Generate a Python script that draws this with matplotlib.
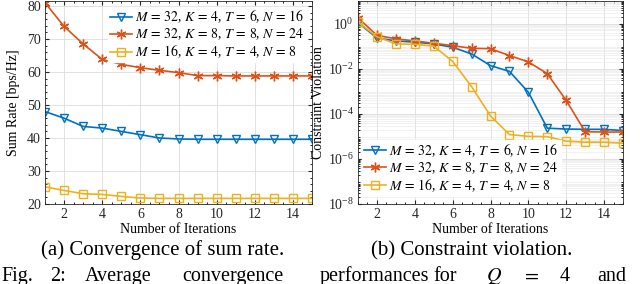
import matplotlib
matplotlib.use("Agg")
import matplotlib.pyplot as plt
from matplotlib.ticker import AutoMinorLocator, LogLocator, NullFormatter

plt.rcParams['font.family'] = ['Liberation Serif', 'DejaVu Serif']
plt.rcParams['mathtext.fontset'] = 'stix'

iters = list(range(1, 16))

labels = [r'$M\,=\,32$, $K\,=\,4$, $T\,=\,6$, $N\,=\,16$',
          r'$M\,=\,32$, $K\,=\,8$, $T\,=\,8$, $N\,=\,24$',
          r'$M\,=\,16$, $K\,=\,4$, $T\,=\,4$, $N\,=\,8$']

# sum rate [bps/Hz]
rate_a = [48.0, 46.0, 43.5, 43.0, 42.0, 41.0, 40.0, 39.7, 39.6, 39.6, 39.6, 39.6, 39.6, 39.6, 39.6]
rate_b = [81.0, 73.8, 68.5, 63.8, 62.3, 61.3, 60.5, 59.8, 58.9, 58.9, 58.8, 58.8, 58.8, 58.8, 58.8]
rate_c = [25.2, 24.1, 23.1, 22.9, 22.3, 21.8, 21.7, 21.7, 21.7, 21.7, 21.7, 21.7, 21.7, 21.7, 21.7]

# constraint violation
viol_a = [1.1, 0.23, 0.17, 0.15, 0.125, 0.089, 0.045, 0.0136, 0.0076, 9e-4,
          2.3e-5, 2.1e-5, 2.05e-5, 2.05e-5, 1.8e-5]
viol_b = [1.8, 0.30, 0.21, 0.17, 0.134, 0.105, 0.080, 0.077, 0.038, 0.020,
          0.006, 3.9e-4, 1.6e-5, 1.55e-5, 1.55e-5]
viol_c = [1.15, 0.26, 0.125, 0.12, 0.10, 0.021, 1.6e-3, 8e-5, 1.2e-5, 1.0e-5,
          9.7e-6, 6.1e-6, 5.5e-6, 5.5e-6, 5.0e-6]

colors = ['#0072BD', '#D95319', '#EDB120']
markers = ['v', (6, 2, 0), 's']
msizes = [6, 7, 6]

fig = plt.figure(figsize=(6.4, 2.84), dpi=100)
W, H = 640, 284

def px_axes(x0, x1, y0, y1):
    return fig.add_axes([x0 / W, 1 - y1 / H, (x1 - x0) / W, (y1 - y0) / H])

ax1 = px_axes(45, 312, 1, 204)
ax2 = px_axes(358, 623, 1, 204)

for ax, series in ((ax1, [rate_a, rate_b, rate_c]), (ax2, [viol_a, viol_b, viol_c])):
    for s, c, m, ms, lab in zip(series, colors, markers, msizes, labels):
        ax.plot(iters, s, color=c, marker=m, markersize=ms, markerfacecolor='none',
                markeredgewidth=1.0, linewidth=1.2, label=lab)
    ax.set_xlim(1, 15)
    ax.set_xticks([2, 4, 6, 8, 10, 12, 14])
    ax.tick_params(direction='in', top=True, right=True, labelsize=10, length=3,
                   pad=3, colors='#262626', labelcolor='#262626')
    ax.tick_params(which='minor', direction='in', top=True, right=True, length=1.5)
    ax.xaxis.set_minor_locator(AutoMinorLocator(4))
    for sp in ax.spines.values():
        sp.set_color('#262626')
        sp.set_linewidth(0.6)
    ax.set_xlabel('Number of Iterations', fontsize=10, labelpad=1)

ax1.set_ylim(20, 81.5)
ax1.set_yticks([20, 30, 40, 50, 60, 70, 80])
ax1.yaxis.set_minor_locator(AutoMinorLocator(5))
ax1.grid(True, which='major', color='#dcdcdc', linewidth=0.6)
ax1.set_axisbelow(True)
ax1.set_ylabel('Sum Rate [bps/Hz]', fontsize=10, labelpad=5)
ax1.legend(loc='upper right', fontsize=10, frameon=True, edgecolor='white',
           framealpha=1, fancybox=False, borderpad=0.15, labelspacing=0.1,
           handlelength=1.6, handletextpad=0.2, borderaxespad=0.4)

ax2.set_yscale('log')
ax2.set_ylim(1e-8, 10)
ax2.set_yticks([1e-8, 1e-6, 1e-4, 1e-2, 1e0])
ax2.yaxis.set_minor_locator(LogLocator(base=10, subs=range(2, 10), numticks=20))
ax2.yaxis.set_minor_formatter(NullFormatter())
ax2.grid(True, which='major', color='#dcdcdc', linewidth=0.6)
ax2.grid(True, which='minor', axis='y', color='#ececec', linewidth=0.5)
ax2.set_axisbelow(True)
ax2.set_ylabel('Constraint Violation', fontsize=10, labelpad=2)
ax2.legend(loc='lower left', fontsize=10, frameon=True, edgecolor='white',
           framealpha=1, fancybox=False, borderpad=0.15, labelspacing=0.1,
           handlelength=1.6, handletextpad=0.2, borderaxespad=0.3,
           bbox_to_anchor=(0.0, 0.02))

# sub-captions
fig.text(163 / W, 1 - 255 / H, '(a) Convergence of sum rate.', fontsize=15,
         ha='center', va='baseline')
fig.text(472 / W, 1 - 255 / H, '(b) Constraint violation.', fontsize=15,
         ha='center', va='baseline')

# justified figure caption line
caption_words = ['Fig.', '2:', 'Average', 'convergence', 'performances', 'for',
                 r'$Q$', r'$=$', '4', 'and']
caption_x = [1, 50, 85, 182, 320, 433, 486, 522, 560, 597]
for word, xw in zip(caption_words, caption_x):
    fig.text(xw / W, 1 - 281 / H, word, fontsize=14.5, ha='left', va='baseline')

fig.savefig('out.png', dpi=100)
